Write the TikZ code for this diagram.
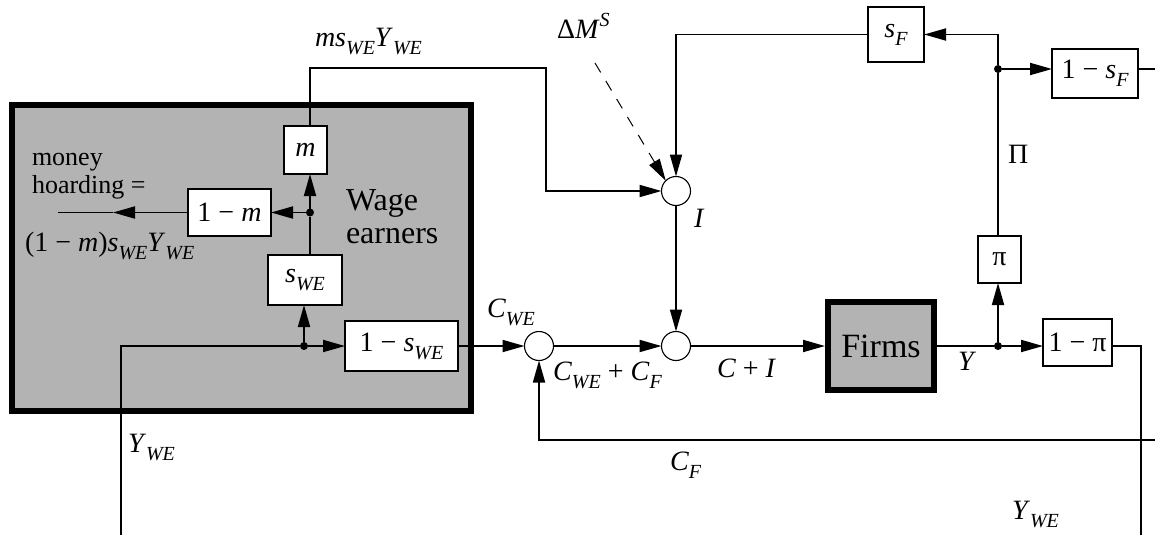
\documentclass[tikz,border=0pt]{standalone}
\usepackage{fontspec}
\setmainfont{Liberation Serif}
\usetikzlibrary{arrows.meta}
\definecolor{shade}{RGB}{179,179,179}
\newcommand\mfont{\fontsize{28}{32}\selectfont}
\newcommand\hfont{\fontsize{26}{30}\selectfont}
\newcommand\bfontx{\fontsize{34}{38}\selectfont}
\newcommand\wfont{\fontsize{32}{33}\selectfont}
\newcommand\sbx[1]{\raisebox{-8pt}{\fontsize{20}{20}\selectfont\itshape #1}}
\newcommand\spx[1]{\raisebox{12pt}{\fontsize{20}{20}\selectfont\itshape #1}}
\begin{document}
\begin{tikzpicture}[x=1pt,y=-1pt,
  every node/.style={inner sep=0pt, outer sep=0pt},
  con/.style={line width=1.8pt},
  arr/.style={con, -{Triangle[length=22pt,width=12pt]}},
  blk/.style={draw, line width=1.3pt, fill=white, font=\mfont},
  sumnode/.style={draw, circle, line width=1.1pt, fill=white, minimum size=29pt},
  jdot/.style={circle, fill=black, minimum size=8pt},
  lbl/.style={font=\mfont, anchor=base west},
  hbig/.style={draw, line width=6pt, fill=shade},
]
\useasboundingbox (0,0) rectangle (1155,535);

% wage earners block
\node[hbig, minimum width=458.5pt, minimum height=306pt] (wage) at (241.25,257.5) {};
\node[anchor=west, font=\wfont, align=left] (wagel) at (346,217) {Wage\\earners};

% blocks
\node[blk, minimum width=43pt, minimum height=48pt] (mbox) at (305.5,150) {\textit{m}};
\node[blk, minimum width=83pt, minimum height=47pt] (onem) at (229.5,212.5) {1 − \textit{m}};
\node[blk, minimum width=74pt, minimum height=50pt] (swe) at (305,280) {\textit{s}\sbx{WE}};
\node[blk, minimum width=113pt, minimum height=50pt] (oneswe) at (401.5,346) {1 − \textit{s}\sbx{WE}};
\node[blk, minimum width=56pt, minimum height=55pt] (sF) at (896,34.5) {\textit{s}\sbx{F}};
\node[blk, minimum width=86pt, minimum height=49pt] (onesF) at (1095,73.5) {1 − \textit{s}\sbx{F}};
\node[blk, minimum width=43pt, minimum height=47pt] (pi) at (999.5,259.5) {π};
\node[blk, minimum width=69pt, minimum height=47pt] (onepi) at (1077.5,342.5) {1 − π};
\node[hbig, outer sep=3pt, minimum width=106pt, minimum height=88pt, font=\bfontx] (firms) at (881,346) {Firms};

% summing junctions
\node[sumnode] (sI) at (676,191) {};
\node[sumnode] (s1) at (539,346) {};
\node[sumnode] (s2) at (676,346) {};

% branch dots
\node[jdot] (jU) at (310,212.5) {};
\node[jdot] (jL) at (304,346) {};
\node[jdot] (jY) at (998,346) {};
\node[jdot] (jP) at (998,69) {};

% free ends / corners
\coordinate (hoard) at (58,212.5);
\coordinate (hmid) at (113,212.5);
\coordinate (ywebot) at (120.7,535);
\coordinate (mcorner) at (545.7,68);
\coordinate (dmS) at (595,63);
\coordinate (sFout) at (1155,69);
\coordinate (cfR) at (1155,440);
\coordinate (yweR) at (1141,535);

% connectors
\draw[arr] (jU) -- (jU |- mbox.south);
\draw[con] (jU) -- (jU |- swe.north);
\draw[arr] (jU) -- (onem.east);
\draw[arr] (onem.west) -- (hmid);
\draw[con] (hmid) -- (hoard);
\draw[arr] (jL) -- (jL |- swe.south);
\draw[arr] (jL) -- (oneswe.west);
\draw[con] (jL) -| (ywebot);
\draw[arr] (jU |- mbox.north) |- (mcorner) |- (sI.west);
\draw[arr] (sF.west) -| (sI.north);
\draw[line width=1pt, dash pattern=on 11pt off 10pt, -{Triangle[length=22pt,width=12pt]}] (dmS) -- (sI.135);
\draw[arr] (sI.south) -- (s2.north);
\draw[arr] (oneswe.east) -- (s1.west);
\draw[arr] (s1.east) -- (s2.west);
\draw[arr] (s2.east) -- (firms.west);
\draw[con] (firms.east) -- (jY);
\draw[arr] (jY) -- (jY |- pi.south);
\draw[arr] (jY) -- (jY -| onepi.west);
\draw[con] (onepi.east |- jY) -| (yweR);
\draw[con] (pi.north -| jP) -- (jP);
\draw[arr] (jP) |- (sF.east);
\draw[arr] (jP) -- (jP -| onesF.west);
\draw[con] (onesF.east |- jP) -- (sFout);
\draw[arr] (cfR) -| (s1.south);

% labels
\node[lbl] (lmsy) at (315,46.7) {\textit{ms}\sbx{WE}\textit{Y}\sbx{WE}};
\node[lbl] (ldm) at (557,38) {Δ\textit{M}\spx{S}};
\node[lbl] (lI) at (694,227) {\textit{I}};
\node[lbl] (lPi) at (1008,163) {Π};
\node[lbl] (lcwe) at (487,317) {\textit{C}\sbx{WE}};
\node[lbl] (lsum) at (553,380) {\textit{C}\sbx{WE} + \textit{C}\sbx{F}};
\node[lbl] (lci) at (717,377) {\textit{C} + \textit{I}};
\node[lbl] (lY) at (958,370) {\textit{Y}};
\node[lbl] (lcf) at (670,470) {\textit{C}\sbx{F}};
\node[lbl] (lywe1) at (128,452) {\textit{Y}\sbx{WE}};
\node[lbl] (lywe2) at (1012,519) {\textit{Y}\sbx{WE}};
\node[lbl] (lhoard) at (25,251) {(1 − \textit{m})\textit{s}\sbx{WE}\textit{Y}\sbx{WE}};
\node[anchor=base west, font=\hfont] (money) at (32,165) {money};
\node[anchor=base west, font=\hfont] (hoarding) at (32,193) {hoarding =};
\end{tikzpicture}
\end{document}
